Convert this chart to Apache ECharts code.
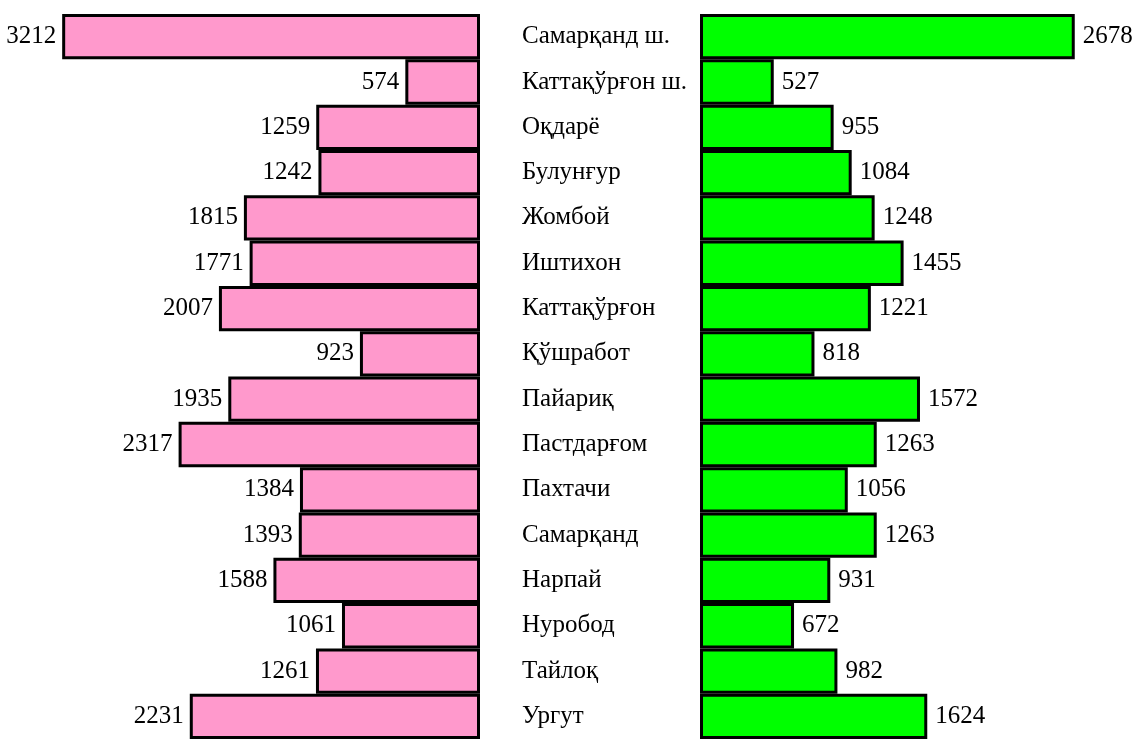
<!DOCTYPE html>
<html>
<head>
<meta charset="utf-8">
<script src="https://cdn.jsdelivr.net/npm/echarts@6/dist/echarts.min.js"></script>
<style>html,body{margin:0;padding:0;background:#fff;}#c{width:1145px;height:739px;}</style>
</head>
<body>
<div id="c"></div>
<script>
const categories = ['Самарқанд ш.','Каттақўрғон ш.','Оқдарё','Булунғур','Жомбой','Иштихон','Каттақўрғон','Қўшработ','Пайариқ','Пастдарғом','Пахтачи','Самарқанд','Нарпай','Нуробод','Тайлоқ','Ургут'];
const leftValues = [3212,574,1259,1242,1815,1771,2007,923,1935,2317,1384,1393,1588,1061,1261,2231];
const rightValues = [2678,527,955,1084,1248,1455,1221,818,1572,1263,1056,1263,931,672,982,1624];

const chart = echarts.init(document.getElementById('c'));
const font = '"Liberation Serif", "Times New Roman", serif';
chart.setOption({
  animation: false,
  backgroundColor: '#fff',
  grid: [
    {left: 0, width: 480, top: 14, height: 726},
    {left: 700, width: 445, top: 14, height: 726}
  ],
  xAxis: [
    {gridIndex: 0, type: 'value', min: 0, max: 3690, inverse: true, show: false},
    {gridIndex: 1, type: 'value', min: 0, max: 3180, show: false}
  ],
  yAxis: [
    {gridIndex: 0, type: 'category', data: categories, inverse: true, show: false},
    {gridIndex: 1, type: 'category', data: categories, inverse: true,
     axisLine: {show: false}, axisTick: {show: false},
     axisLabel: {show: true, align: 'left', margin: 178, fontFamily: font, fontSize: 25, color: '#000', padding: [5,0,0,0]}}
  ],
  series: [
    {type: 'bar', xAxisIndex: 0, yAxisIndex: 0, data: leftValues, barCategoryGap: '0%',
     itemStyle: {color: '#FF99CC', borderColor: '#000', borderWidth: 3},
     label: {show: true, position: 'left', distance: 6, fontFamily: font, fontSize: 25, color: '#000', padding: [3,0,0,0]}},
    {type: 'bar', xAxisIndex: 1, yAxisIndex: 1, data: rightValues, barCategoryGap: '0%',
     itemStyle: {color: '#00FF00', borderColor: '#000', borderWidth: 3},
     label: {show: true, position: 'right', distance: 8, fontFamily: font, fontSize: 25, color: '#000'}}
  ]
});
</script>
</body>
</html>
